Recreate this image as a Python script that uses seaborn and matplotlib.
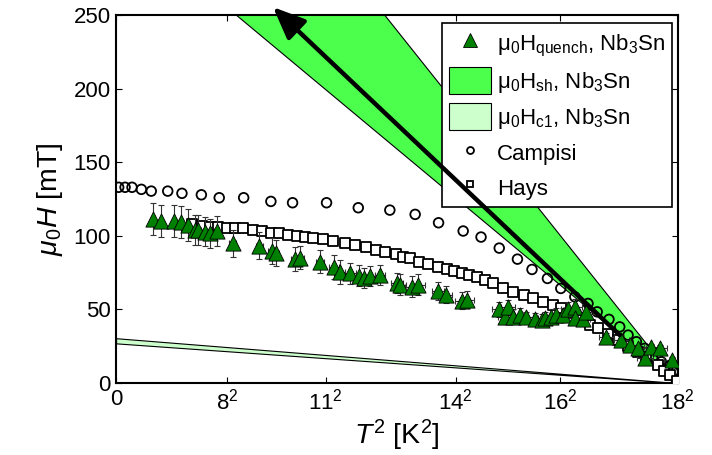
import matplotlib
matplotlib.use('Agg')
import matplotlib.pyplot as plt
import seaborn as sns
from matplotlib.patches import Patch
from matplotlib.lines import Line2D

# values, x in K^2, y in mT
campisi_t2 = [1.5, 5.2, 9.2, 14.6, 20.3, 29.8, 38.0, 49.2, 59.5, 73.6, 89.3, 101.8,
              121.4, 139.7, 157.9, 172.5, 186.0, 200.2, 210.5, 221.0, 231.5, 239.9,
              248.8, 256.5, 264.6, 272.2, 277.5, 284.3, 290.5, 295.3, 300.1, 304.9,
              309.5, 314.5, 318.3, 321.2, 323.2]
campisi_h = [133.0, 133.0, 133.0, 131.6, 130.4, 130.4, 128.9, 127.9, 125.9, 125.9, 123.4, 122.5,
             122.5, 119.1, 117.5, 114.6, 108.9, 103.3, 99.2, 91.7, 84.2, 77.2,
             71.1, 64.3, 58.6, 54.1, 48.4, 43.3, 38.2, 32.6, 28.1, 23.6,
             17.0, 14.5, 11.1, 7.7, 2.0]

hays_t2 = [43.8, 49.4, 54.2, 58.8, 63.8, 68.6, 73.4, 79.1, 84.2, 89.1, 94.0, 99.3, 104.2,
           108.9, 113.4, 119.1, 124.9, 132.0, 137.8, 143.9, 149.9, 155.3, 161.2, 165.4,
           169.5, 174.8, 180.0, 185.4, 190.6, 194.8, 199.3, 203.6, 208.3, 212.7, 217.5,
           223.2, 229.0, 235.2, 240.5, 246.3, 251.9, 256.9, 261.7, 267.5, 273.2, 278.0,
           283.6, 289.3, 295.1, 300.9, 305.9, 312.6, 315.9, 319.3, 323.4]
hays_h = [108.0, 106.7, 106.3, 106.2, 105.6, 105.5, 105.5, 104.3, 103.3, 102.2, 101.9, 100.9, 99.9,
          99.2, 98.8, 97.6, 96.5, 94.9, 93.5, 92.2, 90.3, 89.0, 87.4, 85.8,
          84.7, 82.4, 80.8, 79.0, 77.4, 75.9, 74.7, 73.6, 71.9, 70.3, 67.7,
          64.3, 62.0, 59.8, 57.5, 55.2, 53.0, 50.7, 47.3, 42.8, 39.4, 37.2,
          33.3, 29.2, 25.1, 21.1, 17.9, 12.2, 8.5, 5.4, 1.4]

quench_t2 = [21.2, 25.8, 33.4, 37.5, 41.3, 45.5, 47.4, 51.3, 54.2, 58.0, 67.3, 82.6,
             89.7, 92.2, 103.2, 106.1, 117.6, 125.7, 129.1, 135.2, 140.4, 143.2,
             146.4, 152.2, 162.0, 163.7, 170.4, 174.4, 185.8, 190.2, 199.4, 202.3,
             220.8, 224.2, 226.1, 229.0, 232.9, 236.7, 241.5, 245.4, 247.3, 251.1,
             254.0, 257.8, 260.7, 264.6, 264.6, 269.4, 271.3, 282.8, 291.5, 296.3,
             301.1, 304.9, 308.8, 313.5, 320.5]
quench_h = [111.4, 110.0, 110.3, 109.6, 107.3, 103.9, 103.9, 102.8, 101.7, 103.3, 94.9, 93.4,
            89.7, 88.3, 84.2, 85.3, 82.5, 78.8, 75.6, 74.5, 72.9, 71.3,
            72.7, 73.4, 67.9, 66.9, 65.6, 66.9, 62.5, 60.1, 56.0, 56.7,
            50.1, 45.0, 51.4, 45.0, 46.2, 44.6, 43.3, 42.8, 44.0, 45.0,
            46.2, 46.2, 50.1, 51.8, 44.0, 43.7, 48.4, 31.2, 29.4, 25.8,
            23.6, 17.3, 24.7, 23.6, 16.0]
quench_herr = [11, 11, 11, 11, 11, 10, 10, 10, 10, 10, 9, 9,
               9, 9, 8, 8, 8, 8, 8, 7, 7, 7,
               7, 7, 7, 7, 7, 7, 6, 6, 6, 6,
               5, 5, 5, 5, 5, 4, 4, 4, 4, 5,
               5, 5, 5, 5, 4, 4, 5, 3, 3, 3,
               2, 2, 2, 2, 2]
quench_t2err = [1, 1, 1, 1, 1, 1.5, 1.5, 1.5, 1.5, 1.5, 2, 2,
                2, 2, 2.5, 2.5, 2.5, 3, 3, 3, 3, 3,
                3, 3, 3.5, 3.5, 3.5, 3.5, 3.5, 3.5, 4, 4,
                4, 4, 4, 4, 4, 4, 4, 4, 4, 4,
                4, 4, 4, 4, 4, 4, 4, 4.5, 4.5, 4.5,
                4.5, 4.5, 4.5, 4.5, 4.5]

band_t2 = [0, 324]
hsh_low = [318, 0]
hsh_high = [479, 0]
hc1_low = [27, 0]
hc1_high = [30.5, 0]

xtick_vals = [0, 64, 121, 196, 256, 324]
xtick_labels = ['0', '$8^2$', '$11^2$', '$14^2$', '$16^2$', '$18^2$']
ytick_vals = [0, 50, 100, 150, 200, 250]

sns.set_style('ticks')
plt.rcParams['font.family'] = ['Liberation Sans', 'DejaVu Sans']
plt.rcParams['mathtext.fontset'] = 'custom'
plt.rcParams['mathtext.rm'] = 'Liberation Sans'
plt.rcParams['mathtext.it'] = 'Liberation Sans:italic'
plt.rcParams['text.color'] = 'black'
plt.rcParams['axes.labelcolor'] = 'black'
plt.rcParams['xtick.color'] = 'black'
plt.rcParams['ytick.color'] = 'black'

sh_green = '#4dff4d'
c1_green = '#ccffcc'
tri_green = '#008000'

fig = plt.figure(figsize=(7.12, 4.55), dpi=100)
ax = fig.add_axes([0.163, 0.158, 0.789, 0.809])

# critical field bands
ax.fill_between(band_t2, hsh_low, hsh_high, facecolor=sh_green, edgecolor='black', linewidth=0.8, zorder=1)
ax.fill_between(band_t2, hc1_low, hc1_high, facecolor=c1_green, edgecolor='black', linewidth=0.8, zorder=1)

sns.scatterplot(x=campisi_t2, y=campisi_h, ax=ax, marker='o', s=48,
                facecolor='none', edgecolor='black', linewidth=1.3, zorder=3)
sns.scatterplot(x=hays_t2, y=hays_h, ax=ax, marker='s', s=58,
                facecolor='white', edgecolor='black', linewidth=1.3, zorder=3)

ax.errorbar(quench_t2, quench_h, yerr=quench_herr, xerr=quench_t2err, fmt='none',
            ecolor='#333333', elinewidth=0.8, capsize=2.5, capthick=0.8, zorder=4)
sns.scatterplot(x=quench_t2, y=quench_h, ax=ax, marker='^', s=120,
                facecolor=tri_green, edgecolor='black', linewidth=0.6, zorder=5)

ax.annotate('', xy=(90.5, 255.4), xytext=(290.5, 32.6),
            arrowprops=dict(arrowstyle='-|>,head_length=1.3,head_width=0.55', lw=3.2,
                            color='black', shrinkA=0, shrinkB=0, mutation_scale=15),
            annotation_clip=False, zorder=10)

ax.set_xlim(0, 324)
ax.set_ylim(0, 250)
ax.set_xticks(xtick_vals)
ax.set_xticklabels(xtick_labels)
ax.set_yticks(ytick_vals)
ax.tick_params(direction='in', top=True, right=True, length=4, width=0.8,
               labelsize=16, pad=4)
for sp in ax.spines.values():
    sp.set_linewidth(1.5)
    sp.set_color('black')

ax.set_xlabel(r'$T^2$ [K$^2$]', fontsize=20.5, labelpad=2)
ax.set_ylabel(r'$\mu_0H$ [mT]', fontsize=20.5, labelpad=6)

handles = [
    Line2D([], [], linestyle='none', marker='^', markersize=10, markerfacecolor=tri_green,
           markeredgecolor='black', markeredgewidth=0.6),
    Patch(facecolor=sh_green, edgecolor='black', linewidth=0.8),
    Patch(facecolor=c1_green, edgecolor='black', linewidth=0.8),
    Line2D([], [], linestyle='none', marker='o', markersize=5, markerfacecolor='none',
           markeredgecolor='black', markeredgewidth=1.3),
    Line2D([], [], linestyle='none', marker='s', markersize=5, markerfacecolor='white',
           markeredgecolor='black', markeredgewidth=1.3),
]
labels = [
    'μ$_0$H$_{\\mathregular{quench}}$, Nb$_3$Sn',
    'μ$_0$H$_{\\mathregular{sh}}$, Nb$_3$Sn',
    'μ$_0$H$_{\\mathregular{c1}}$, Nb$_3$Sn',
    'Campisi',
    'Hays',
]
leg = ax.legend(handles, labels, loc='upper right', bbox_to_anchor=(0.989, 0.978),
                borderaxespad=0, fontsize=16, frameon=True, fancybox=False,
                edgecolor='black', framealpha=1, handlelength=1.9, handleheight=1.45,
                handletextpad=0.25, labelspacing=0.38, borderpad=0.3)
leg.get_frame().set_linewidth(1.2)
leg.set_zorder(6)

fig.savefig('out.png', dpi=100)
